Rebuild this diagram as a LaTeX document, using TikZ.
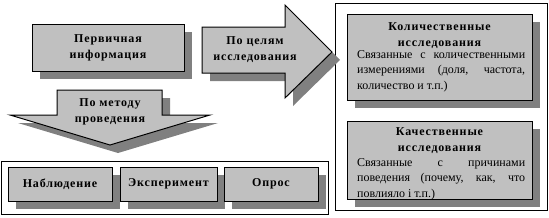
\documentclass[tikz,border=0pt]{standalone}
\usepackage{fontspec}
\setmainfont{Liberation Serif}[BoldFeatures={LetterSpace=7}]
\usetikzlibrary{shadows}
\definecolor{boxgray}{HTML}{C0C0C0}
\definecolor{shadegray}{HTML}{808080}
\tikzset{box/.style={draw=black,line width=1pt,fill=boxgray,general shadow={fill=shadegray,shadow xshift=8pt,shadow yshift=-8pt},inner sep=0pt,align=center,font=\bfseries\fontsize{12}{16}\selectfont}, frame/.style={draw=black,line width=1pt,fill=white}, arrowbody/.style={draw=black,line width=1pt,fill=boxgray}, shade/.style={fill=shadegray}, title/.style={inner sep=0pt,align=center,font=\bfseries\fontsize{12}{16}\selectfont}, body/.style={inner sep=0pt,text width=168pt,align=justify,font=\fontsize{12}{15.5}\selectfont}}
\begin{document}
\begin{tikzpicture}[x=1pt,y=-1pt]
\useasboundingbox (0,0) rectangle (549,217);
\draw[frame] (1,161) rectangle (328,214);
\draw[frame] (335,3) rectangle (547,210);
\node[box,minimum width=152pt,minimum height=47pt] (prim) at (108,47.5) {Первичная\\информация};
\foreach \s/\st in {8/shade,0/arrowbody}{\path[\st,shift={(\s,\s)}] (202,27) -- (285,27) -- (285,5) -- (332,52) -- (285,98) -- (285,73) -- (202,73) -- cycle;
\path[\st,shift={(\s,\s)}] (57,90) -- (162,90) -- (162,115) -- (210,115) -- (110,145) -- (10,115) -- (57,115) -- cycle;}
\node[title] (goal) at (255,50) {По целям\\исследования};
\node[title] (method) at (110,112) {По методу\\проведения};
\foreach \x/\w/\n/\t in {60/104/obs/Наблюдение,168.5/97/exp/Эксперимент,271/94/poll/Опрос}{\node[box,minimum width=\w pt,minimum height=34pt] (\n) at (\x,184) {\t};}
\node[box,minimum width=185pt,minimum height=86pt] (quant) at (439.5,57) {};
\node[title,anchor=north] (quanttitle) at (439.5,22) {Количественные\\исследования};
\node[body,anchor=north west] (quanttext) at (357,50) {Связанные с количественными\linebreak измерениями (доля, частота,\linebreak количество и т.п.)};
\node[box,minimum width=185pt,minimum height=78pt] (qual) at (439.5,160) {};
\node[title,anchor=north] (qualtitle) at (439.5,127) {Качественные\\исследования};
\node[body,anchor=north west] (qualtext) at (357,158) {Связанные с причинами\linebreak поведения (почему, как, что\linebreak повлияло і т.п.)};
\end{tikzpicture}
\end{document}
